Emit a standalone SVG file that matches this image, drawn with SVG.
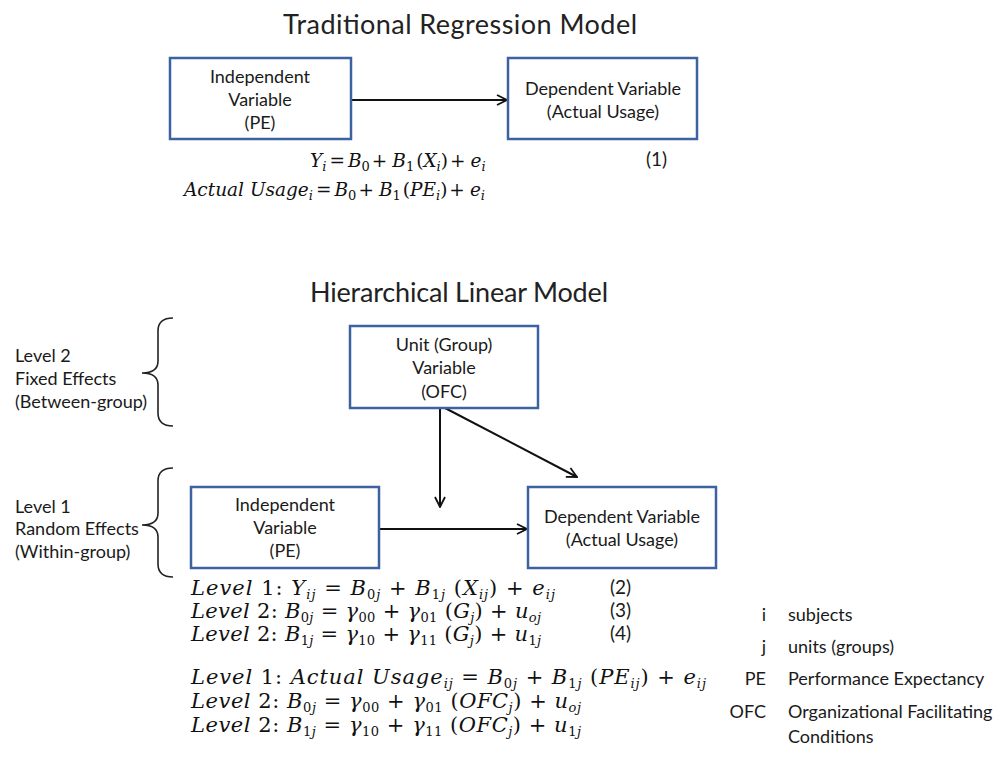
<svg xmlns="http://www.w3.org/2000/svg" width="1005" height="776" viewBox="0 0 1005 776">
  <style>
    .title { font-family: Lato, "Liberation Sans", sans-serif; font-size: 27px; fill: #222; }
    .lbl { font-family: Lato, "Liberation Sans", sans-serif; font-size: 18px; fill: #1a1a1a; }
    .box { fill: #ffffff; stroke: #3c62a0; stroke-width: 2.5; }
    .edge { stroke: #111; stroke-width: 2; fill: none; marker-end: url(#open); }
    .brace { stroke: #222; stroke-width: 1.6; fill: none; }
    .eq { font-family: "DejaVu Serif", "Liberation Serif", serif; font-style: italic; font-size: 18.5px; fill: #111; }
    .eq2 { font-size: 21px; }
    .up { font-style: normal; }
    .sb { font-size: 13px; }
    .big { font-size: 21px; }
    .num { font-family: Lato, "Liberation Sans", sans-serif; font-size: 19px; fill: #1a1a1a; }
    .key { font-family: Lato, "Liberation Sans", sans-serif; font-size: 18px; fill: #1a1a1a; }
  </style>
  <defs>
    <marker id="open" viewBox="0 0 12 12" markerUnits="userSpaceOnUse" markerWidth="12" markerHeight="12" refX="11" refY="6" orient="auto">
      <path d="M1,1 L11,6 L1,11" fill="none" stroke="#111" stroke-width="1.8"/>
    </marker>
  </defs>
  <rect width="1005" height="776" fill="#ffffff"/>

  <!-- Section headings -->
  <text class="title" x="283" y="34" textLength="354">Traditional Regression Model</text>
  <text class="title" x="310" y="302" textLength="298">Hierarchical Linear Model</text>

  <!-- Connectors -->
  <g id="connectors">
    <line class="edge" x1="351" y1="100" x2="507" y2="100"/>
    <line class="edge" x1="379" y1="529" x2="527" y2="529"/>
    <line class="edge" x1="440" y1="408" x2="440" y2="507"/>
    <line class="edge" x1="445" y1="408" x2="577" y2="477"/>
  </g>

  <!-- Regression model nodes -->
  <g id="reg-independent">
    <rect class="box" x="170" y="58" width="181" height="81"/>
    <text class="lbl" text-anchor="middle" x="260" y="83">Independent</text>
    <text class="lbl" text-anchor="middle" x="260" y="106">Variable</text>
    <text class="lbl" text-anchor="middle" x="260" y="129">(PE)</text>
  </g>
  <g id="reg-dependent">
    <rect class="box" x="508" y="58" width="189" height="81"/>
    <text class="lbl" text-anchor="middle" x="603" y="95">Dependent Variable</text>
    <text class="lbl" text-anchor="middle" x="603" y="118">(Actual Usage)</text>
  </g>

  <!-- Regression equation (1): compact operator spacing -->
  <g id="reg-equations">
    <text class="eq" x="310" y="167">Y<tspan class="sb" dy="4">i</tspan><tspan class="up" dy="-4" dx="3">=</tspan><tspan dx="3">B</tspan><tspan class="sb up" dy="4">0</tspan><tspan class="up" dy="-4" dx="2">+</tspan><tspan dx="5">B</tspan><tspan class="sb up" dy="4">1</tspan><tspan class="up" dy="-4" dx="2">(</tspan>X<tspan class="sb" dy="4">i</tspan><tspan class="up" dy="-4">)</tspan><tspan class="up" dx="2">+</tspan><tspan dx="5">e</tspan><tspan class="sb" dy="4">i</tspan></text>
    <text class="num" x="646" y="166">(1)</text>
    <text class="eq" x="184" y="196">Actual Usage<tspan class="sb" dy="4">i</tspan><tspan class="up" dy="-4" dx="3">=</tspan><tspan dx="3">B</tspan><tspan class="sb up" dy="4">0</tspan><tspan class="up" dy="-4" dx="2">+</tspan><tspan dx="5">B</tspan><tspan class="sb up" dy="4">1</tspan><tspan class="up" dy="-4" dx="2">(</tspan>PE<tspan class="sb" dy="4">i</tspan><tspan class="up" dy="-4">)</tspan><tspan class="up" dx="2">+</tspan><tspan dx="5">e</tspan><tspan class="sb" dy="4">i</tspan></text>
  </g>

  <!-- Level braces and labels -->
  <g id="level2-brace">
    <path class="brace" d="M173,318 Q158,318 158,331 L158,361 Q158,373 142,373 Q158,373 158,385 L158,413 Q158,426 173,426"/>
    <text class="lbl" x="15" y="362">Level 2</text>
    <text class="lbl" x="15" y="385">Fixed Effects</text>
    <text class="lbl" x="15" y="408">(Between-group)</text>
  </g>
  <g id="level1-brace">
    <path class="brace" d="M173,468 Q158,468 158,481 L158,513 Q158,525 142,525 Q158,525 158,537 L158,564 Q158,577 173,577"/>
    <text class="lbl" x="15" y="513">Level 1</text>
    <text class="lbl" x="15" y="535">Random Effects</text>
    <text class="lbl" x="15" y="558">(Within-group)</text>
  </g>

  <!-- Hierarchical model nodes -->
  <g id="hlm-unit">
    <rect class="box" x="350" y="326" width="188" height="82"/>
    <text class="lbl" text-anchor="middle" x="444" y="351">Unit (Group)</text>
    <text class="lbl" text-anchor="middle" x="444" y="374">Variable</text>
    <text class="lbl" text-anchor="middle" x="444" y="398">(OFC)</text>
  </g>
  <g id="hlm-independent">
    <rect class="box" x="191" y="487" width="188" height="81"/>
    <text class="lbl" text-anchor="middle" x="285" y="511">Independent</text>
    <text class="lbl" text-anchor="middle" x="285" y="534">Variable</text>
    <text class="lbl" text-anchor="middle" x="285" y="557">(PE)</text>
  </g>
  <g id="hlm-dependent">
    <rect class="box" x="528" y="487" width="188" height="81"/>
    <text class="lbl" text-anchor="middle" x="622" y="523">Dependent Variable</text>
    <text class="lbl" text-anchor="middle" x="622" y="546">(Actual Usage)</text>
  </g>

  <!-- Multilevel equations (2)-(4) and applied form -->
  <g id="hlm-equations">
    <text class="eq eq2" x="191" y="595" textLength="364">Level <tspan class="up">1: </tspan>Y<tspan class="sb" dy="4">ij</tspan><tspan class="up" dy="-4"> = </tspan>B<tspan class="sb" dy="4"><tspan class="up">0</tspan>j</tspan><tspan class="up" dy="-4"> + </tspan>B<tspan class="sb" dy="4"><tspan class="up">1</tspan>j</tspan><tspan class="up big" dy="-4"> (</tspan>X<tspan class="sb" dy="4">ij</tspan><tspan class="up big" dy="-4">)</tspan><tspan class="up"> + </tspan>e<tspan class="sb" dy="4">ij</tspan></text>
    <text class="eq eq2" x="191" y="618" textLength="350">Level <tspan class="up">2: </tspan>B<tspan class="sb" dy="4"><tspan class="up">0</tspan>j</tspan><tspan class="up" dy="-4"> = </tspan>γ<tspan class="sb up" dy="4">00</tspan><tspan class="up" dy="-4"> + </tspan>γ<tspan class="sb up" dy="4">01</tspan><tspan class="up big" dy="-4"> (</tspan>G<tspan class="sb" dy="4">j</tspan><tspan class="up big" dy="-4">)</tspan><tspan class="up"> + </tspan>u<tspan class="sb" dy="4">oj</tspan></text>
    <text class="eq eq2" x="191" y="641" textLength="350">Level <tspan class="up">2: </tspan>B<tspan class="sb" dy="4"><tspan class="up">1</tspan>j</tspan><tspan class="up" dy="-4"> = </tspan>γ<tspan class="sb up" dy="4">10</tspan><tspan class="up" dy="-4"> + </tspan>γ<tspan class="sb up" dy="4">11</tspan><tspan class="up big" dy="-4"> (</tspan>G<tspan class="sb" dy="4">j</tspan><tspan class="up big" dy="-4">)</tspan><tspan class="up"> + </tspan>u<tspan class="sb" dy="4"><tspan class="up">1</tspan>j</tspan></text>
    <text class="num" x="610" y="594">(2)</text>
    <text class="num" x="610" y="617">(3)</text>
    <text class="num" x="610" y="640">(4)</text>

    <text class="eq eq2" x="191" y="684" textLength="515">Level <tspan class="up">1: </tspan>Actual Usage<tspan class="sb" dy="4">ij</tspan><tspan class="up" dy="-4"> = </tspan>B<tspan class="sb" dy="4"><tspan class="up">0</tspan>j</tspan><tspan class="up" dy="-4"> + </tspan>B<tspan class="sb" dy="4"><tspan class="up">1</tspan>j</tspan><tspan class="up big" dy="-4"> (</tspan>PE<tspan class="sb" dy="4">ij</tspan><tspan class="up big" dy="-4">)</tspan><tspan class="up"> + </tspan>e<tspan class="sb" dy="4">ij</tspan></text>
    <text class="eq eq2" x="191" y="708" textLength="390">Level <tspan class="up">2: </tspan>B<tspan class="sb" dy="4"><tspan class="up">0</tspan>j</tspan><tspan class="up" dy="-4"> = </tspan>γ<tspan class="sb up" dy="4">00</tspan><tspan class="up" dy="-4"> + </tspan>γ<tspan class="sb up" dy="4">01</tspan><tspan class="up big" dy="-4"> (</tspan>OFC<tspan class="sb" dy="4">j</tspan><tspan class="up big" dy="-4">)</tspan><tspan class="up"> + </tspan>u<tspan class="sb" dy="4">oj</tspan></text>
    <text class="eq eq2" x="191" y="732" textLength="390">Level <tspan class="up">2: </tspan>B<tspan class="sb" dy="4"><tspan class="up">1</tspan>j</tspan><tspan class="up" dy="-4"> = </tspan>γ<tspan class="sb up" dy="4">10</tspan><tspan class="up" dy="-4"> + </tspan>γ<tspan class="sb up" dy="4">11</tspan><tspan class="up big" dy="-4"> (</tspan>OFC<tspan class="sb" dy="4">j</tspan><tspan class="up big" dy="-4">)</tspan><tspan class="up"> + </tspan>u<tspan class="sb" dy="4"><tspan class="up">1</tspan>j</tspan></text>
  </g>

  <!-- Notation key -->
  <g id="legend">
    <text class="key" text-anchor="end" x="766" y="621">i</text>
    <text class="key" x="788" y="621">subjects</text>
    <text class="key" text-anchor="end" x="766" y="653">j</text>
    <text class="key" x="788" y="653">units (groups)</text>
    <text class="key" text-anchor="end" x="766" y="685">PE</text>
    <text class="key" x="788" y="685">Performance Expectancy</text>
    <text class="key" text-anchor="end" x="766" y="718">OFC</text>
    <text class="key" x="788" y="718">Organizational Facilitating</text>
    <text class="key" x="788" y="743">Conditions</text>
  </g>
</svg>
